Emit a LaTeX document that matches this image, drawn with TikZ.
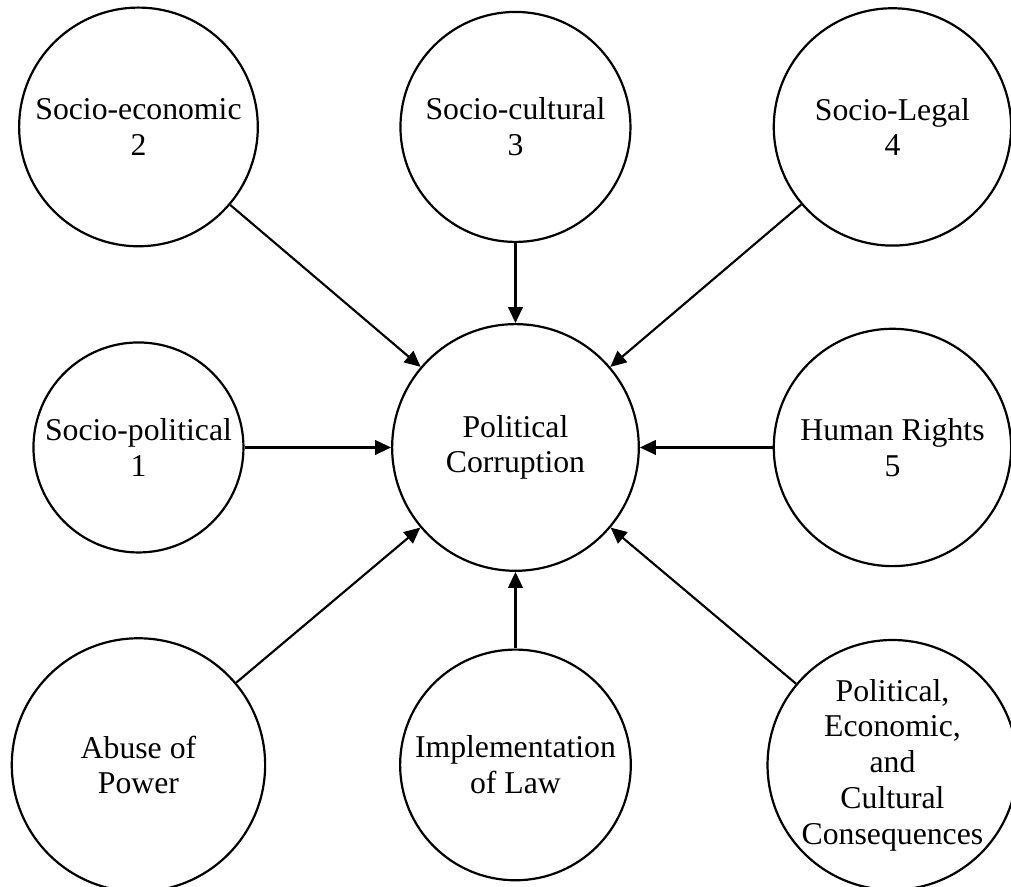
\documentclass[tikz,border=0pt]{standalone}
\usepackage{fontspec}
\setmainfont{Liberation Serif}
\usetikzlibrary{arrows.meta,positioning}

\begin{document}
\begin{tikzpicture}
	\fontsize{23.8pt}{26.8pt}\selectfont
	\newcommand\dx{282.75pt}
	\newcommand\dyup{240.4pt}
	\newcommand\dydown{238.1pt}
	\tikzset{
		factor/.style={on grid, circle, draw, line width=1.65pt, align=center, inner sep=0pt},
		push/.style={line width=1.6pt, -{Triangle[length=12pt, width=11pt]}},
	}
	\useasboundingbox (0,0) rectangle (758.25pt,-665.25pt);
	\clip (0,0) rectangle (758.25pt,-665.25pt);
	% central node
	\node[factor, minimum size=185pt] (pc) at (386.6pt,-335.6pt) {Political\\Corruption};
	% top row
	\node[factor, minimum size=179pt, above left=\dyup and \dx of pc] (econ) {Socio-economic\\2};
	\node[factor, minimum size=172.5pt, above=\dyup of pc] (cult) {Socio-cultural\\3};
	\node[factor, minimum size=178pt, above right=\dyup and \dx of pc] (legal) {Socio-Legal\\4};
	% middle row
	\node[factor, minimum size=157.5pt, left=\dx of pc] (socpol) {Socio-political\\1};
	\node[factor, minimum size=178pt, right=\dx of pc] (rights) {Human Rights\\5};
	% bottom row
	\node[factor, minimum size=190pt, below left=\dydown and \dx of pc] (abuse) {Abuse of\\Power};
	\node[factor, minimum size=173pt, below=\dydown of pc] (impl) {Implementation\\of Law};
	\node[factor, minimum size=186pt, below right=\dydown and \dx of pc] (conseq) {Political,\\Economic,\\and\\Cultural\\Consequences};

	% arrows into the centre
	\foreach \src in {econ, cult, legal, socpol, rights, abuse, impl, conseq}
		\draw[push] (\src) -- (pc);
\end{tikzpicture}
\end{document}
